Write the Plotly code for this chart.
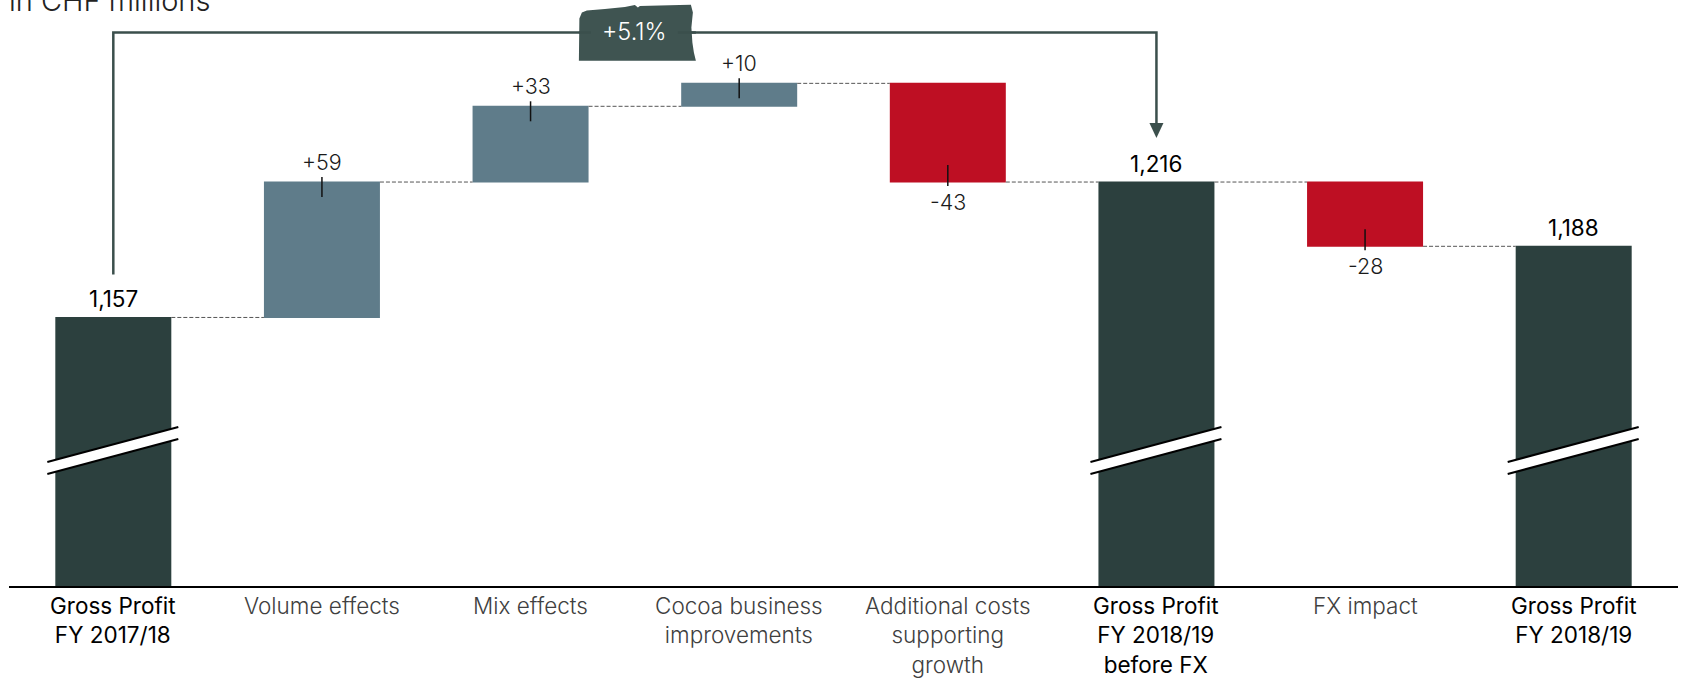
import plotly.graph_objects as go

# ---------------- data ----------------
categories = [
    "Gross Profit<br>FY 2017/18",
    "Volume effects",
    "Mix effects",
    "Cocoa business<br>improvements",
    "Additional costs<br>supporting<br>growth",
    "Gross Profit<br>FY 2018/19<br>before FX",
    "FX impact",
    "Gross Profit<br>FY 2018/19",
]
values = [1157, 59, 33, 10, -43, 1216, -28, 1188]
measures = ["absolute", "relative", "relative", "relative", "relative", "total", "relative", "total"]
value_labels = ["1,157", "+59", "+33", "+10", "-43", "1,216", "-28", "1,188"]
growth_label = "+5.1%"
title_text = "in CHF millions"

# ---------------- style ----------------
C_TOTAL = "#2c403e"
C_UP = "#5f7c8a"
C_DOWN = "#be0f23"
C_BRACKET = "#3b4f4c"
C_STAMP = "#3f5451"
FONT = "Inter"

Y_MIN, Y_MAX = 1040, 1286.6
M_L, M_R, M_T, M_B = 9, 7, 20, 93
W, H = 1685, 679
plot_h = H - M_T - M_B
PX = (Y_MAX - Y_MIN) / plot_h          # data units per pixel (vertical)
plot_w = W - M_L - M_R
PXX = 8.0 / plot_w                     # data units per pixel (horizontal)

x = list(range(len(categories)))
BAR_W = 0.556

# running levels (top / bottom of each bar)
tops, bots = [], []
level = 0
for v, m in zip(values, measures):
    if m == "absolute":
        level = v
        tops.append(v); bots.append(Y_MIN)
    elif m == "total":
        tops.append(level); bots.append(Y_MIN)
    else:
        lo, hi = sorted([level, level + v])
        tops.append(hi); bots.append(lo)
        level += v

fig = go.Figure(go.Waterfall(
    x=x, y=values, measure=measures,
    width=[BAR_W] * len(x),
    increasing=dict(marker=dict(color=C_UP, line=dict(width=0))),
    decreasing=dict(marker=dict(color=C_DOWN, line=dict(width=0))),
    totals=dict(marker=dict(color=C_TOTAL, line=dict(width=0))),
    connector=dict(mode="between", line=dict(color="#555555", width=1, dash="4px,2px")),
    hoverinfo="skip", showlegend=False, textinfo="none",
))

shapes = []
annotations = []

# value labels + tick marks
for i, (m, v) in enumerate(zip(measures, values)):
    if m == "relative":
        if v > 0:
            edge = tops[i]
            shapes.append(dict(type="line", x0=i, x1=i, y0=edge + 5 * PX, y1=edge - 15 * PX,
                               xref="x", yref="y", line=dict(color="#111", width=1.5)))
            annotations.append(dict(x=i, y=edge, text=value_labels[i], showarrow=False,
                                    yanchor="middle", yshift=20,
                                    font=dict(family=FONT, size=21.5, color="#1a1a1a", weight=300)))
        else:
            edge = bots[i]
            shapes.append(dict(type="line", x0=i, x1=i, y0=edge + 17 * PX, y1=edge - 4 * PX,
                               xref="x", yref="y", line=dict(color="#111", width=1.5)))
            annotations.append(dict(x=i, y=edge, text=value_labels[i], showarrow=False,
                                    yanchor="middle", yshift=-20,
                                    font=dict(family=FONT, size=21.5, color="#1a1a1a", weight=300)))
    else:
        annotations.append(dict(x=i, y=tops[i], text=value_labels[i], showarrow=False,
                                yanchor="middle", yshift=19,
                                font=dict(family=FONT, size=22.5, color="#000", weight=400)))
        # axis-break mark
        xl, xr = i - 66 * PXX, i + 65 * PXX
        yl, yr = Y_MIN + 112 * PX, Y_MIN + 147 * PX
        hgt = 12 * PX
        shapes.append(dict(type="path", xref="x", yref="y",
                           path=f"M {xl},{yl} L {xr},{yr} L {xr},{yr + hgt} L {xl},{yl + hgt} Z",
                           fillcolor="white", line=dict(width=0)))
        shapes.append(dict(type="line", xref="x", yref="y", x0=xl, y0=yl, x1=xr, y1=yr,
                           line=dict(color="black", width=2)))
        shapes.append(dict(type="line", xref="x", yref="y", x0=xl, y0=yl + hgt, x1=xr, y1=yr + hgt,
                           line=dict(color="black", width=2)))

# category labels
for i, c in enumerate(categories):
    is_total = measures[i] != "relative"
    annotations.append(dict(x=i, y=0, xref="x", yref="paper", text=c, showarrow=False,
                            yanchor="top", yshift=-4, align="center",
                            font=dict(family=FONT, size=22.5,
                                      color="#000" if is_total else "#404040",
                                      weight=400 if is_total else 300)))

# growth bracket from first total to total before FX
i0, i1 = 0, 5
y_start = tops[i0] + 43 * PX
y_line = Y_MAX - 12.5 * PX
y_tip = tops[i1] + 44 * PX
shapes.append(dict(type="path", xref="x", yref="y",
                   path=f"M {i0},{y_start} L {i0},{y_line} L {i1},{y_line} L {i1},{y_tip + 14 * PX}",
                   line=dict(color=C_BRACKET, width=2.5)))
ax = 7 * PXX
shapes.append(dict(type="path", xref="x", yref="y",
                   path=f"M {i1 - ax},{y_tip + 15 * PX} L {i1 + ax},{y_tip + 15 * PX} L {i1},{y_tip} Z",
                   fillcolor=C_BRACKET, line=dict(width=0)))

# stamp box (paper-referenced vertically so it is not clipped by the plot area)
xc = (i0 + i1) / 2
y_line_paper = (y_line - Y_MIN) / (Y_MAX - Y_MIN)
stamp_pts = [(-56, -28.2), (-55.5, 14), (-53, 20), (-48, 22), (-30, 23.5), (-10, 25.5), (0, 27.5),
             (3, 25), (5, 26.5), (25, 27), (45, 27.5), (56, 27.8), (58, 20), (56.5, 5),
             (57.5, -10), (59, -20), (61, -28.2)]
stamp_path = "M " + " L ".join(f"{px},{py}" for px, py in stamp_pts) + " Z"
shapes.append(dict(type="path", xref="x", yref="paper", xsizemode="pixel", ysizemode="pixel",
                   xanchor=xc, yanchor=y_line_paper, path=stamp_path,
                   fillcolor=C_STAMP, line=dict(width=0)))
for seg in [(-56, -44), (43, 61)]:
    shapes.append(dict(type="line", xref="x", yref="paper", xsizemode="pixel", ysizemode="pixel",
                       xanchor=xc, yanchor=y_line_paper, x0=seg[0], x1=seg[1], y0=0, y1=0,
                       line=dict(color=C_BRACKET, width=2.5)))
annotations.append(dict(x=xc, y=y_line, text=growth_label, showarrow=False, yanchor="middle",
                        yshift=1, font=dict(family=FONT, size=23.5, color="white", weight=300)))

# title (clipped at the top like the source)
annotations.append(dict(x=0, y=1, xref="paper", yref="paper", xanchor="left", yanchor="bottom",
                        text=title_text, showarrow=False, yshift=0, xshift=-2,
                        font=dict(family=FONT, size=29, color="#222", weight=300)))

fig.update_layout(
    width=W, height=H, autosize=False,
    margin=dict(l=M_L, r=M_R, t=M_T, b=M_B),
    plot_bgcolor="white", paper_bgcolor="white",
    shapes=shapes, annotations=annotations,
    xaxis=dict(range=[-0.5, 7.5], showgrid=False, zeroline=False, showticklabels=False,
               showline=True, linecolor="black", linewidth=2, ticks="", fixedrange=True),
    yaxis=dict(range=[Y_MIN, Y_MAX], showgrid=False, zeroline=False, showticklabels=False,
               showline=False, ticks="", fixedrange=True),
    bargap=0,
)

fig.write_html("out.html", config={"displayModeBar": False},
               post_script="document.body.style.margin='0';document.body.style.overflow='hidden';")
